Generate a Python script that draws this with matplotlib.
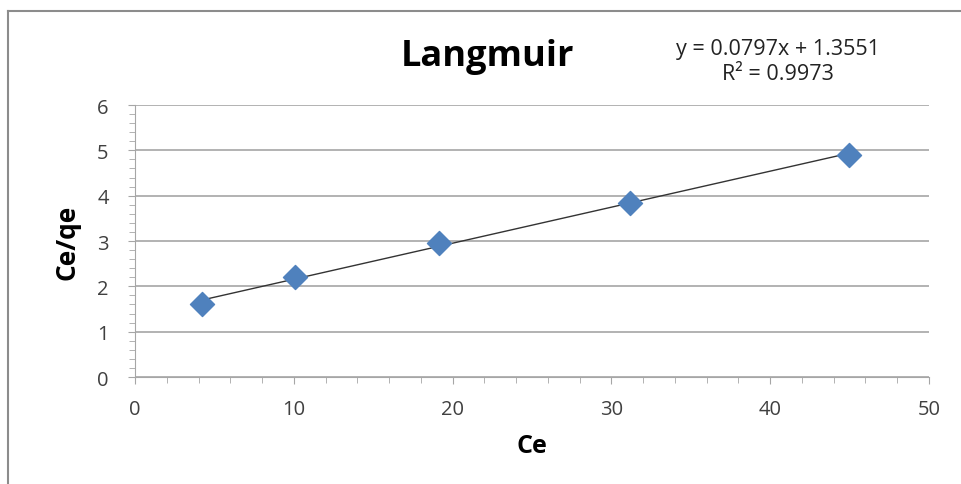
import matplotlib.pyplot as plt
import numpy as np
from matplotlib.ticker import MultipleLocator
from matplotlib.lines import Line2D

# data
ce = [4.22, 10.08, 19.14, 31.17, 44.96]
ce_qe = [1.61, 2.21, 2.96, 3.84, 4.90]
equation = 'y = 0.0797x + 1.3551'
r_squared = 'R² = 0.9973'

plt.rcParams['font.family'] = ['Open Sans', 'DejaVu Sans']

fig = plt.figure(figsize=(9.61, 4.85), dpi=100)
ax = fig.add_axes([0.1405, 0.2206, 0.8262, 0.5608])

# outer chart border (only top and left visible)
W, H = 961, 485
fig.add_artist(Line2D([8 / W, 8 / W], [0, 1 - 12 / H], color='#8c8c8c', lw=1.5,
                      transform=fig.transFigure))
fig.add_artist(Line2D([8 / W, 1], [1 - 12 / H, 1 - 12 / H], color='#8c8c8c', lw=1.5,
                      transform=fig.transFigure))

# linear trendline
slope, intercept = np.polyfit(ce, ce_qe, 1)
xs = np.array([min(ce), max(ce)])
ax.plot(xs, slope * xs + intercept, color='#333333', lw=1, zorder=2)

ax.scatter(ce, ce_qe, marker='D', s=150, color='#4f81bd', edgecolor='#4f81bd',
           zorder=3)

ax.set_xlim(0, 50)
ax.set_ylim(0, 6)
ax.xaxis.set_major_locator(MultipleLocator(10))
ax.xaxis.set_minor_locator(MultipleLocator(2))
ax.yaxis.set_major_locator(MultipleLocator(1))
ax.yaxis.set_minor_locator(MultipleLocator(0.2))

ax.grid(axis='y', which='major', color='#a6a6a6', lw=1.2)
ax.set_axisbelow(True)
for side in ['top', 'right']:
    ax.spines[side].set_visible(False)
for side in ['left', 'bottom']:
    ax.spines[side].set_color('#a6a6a6')

ax.tick_params(which='major', length=5, color='#a6a6a6', labelsize=14.5,
               labelcolor='#404040')
ax.tick_params(which='minor', length=4, color='#a6a6a6')
ax.tick_params(axis='x', pad=11)
ax.tick_params(axis='y', pad=14)

ax.set_xlabel('Ce', fontsize=18, fontweight='bold', labelpad=10)
ax.set_ylabel('Ce/qe', fontsize=19, fontweight='bold', labelpad=12)

fig.text(488 / W, 1 - 57 / H, 'Langmuir', fontsize=26, fontweight='bold',
         ha='center', va='center')
fig.text(778 / W, 1 - 49 / H, equation, fontsize=15.5, ha='center', va='center',
         color='#222222')
fig.text(778 / W, 1 - 75 / H, r_squared, fontsize=15.5, ha='center', va='center',
         color='#222222')

fig.savefig('out.png', dpi=100)
